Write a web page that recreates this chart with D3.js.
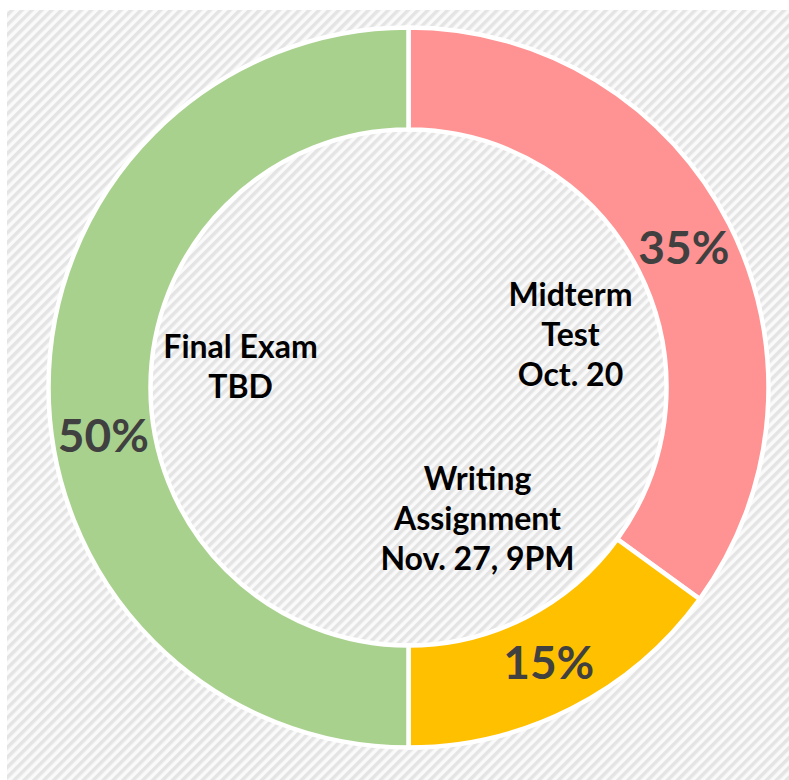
<!DOCTYPE html>
<html>
<head>
<meta charset="utf-8">
<script src="https://cdn.jsdelivr.net/npm/d3@7"></script>
<style>
  body { margin: 0; background: #fff; }
  svg { display: block; }
</style>
</head>
<body>
<svg id="chart"></svg>
<script>
var width = 789, height = 780;

// Data
var categories = ["Midterm", "Writing", "Final"];
var shares = [35, 15, 50];
var colors = ["#ff9292", "#ffc000", "#a9d18e"];
var valueLabels = ["35%", "15%", "50%"];
var centerLabels = [
  ["Midterm", "Test", "Oct. 20"],
  ["Writing", "Assignment", "Nov. 27, 9PM"],
  ["Final Exam", "TBD"]
];

var cx = 408.5, cy = 387.5;
var outerR = 360, innerR = 258;

var svg = d3.select("#chart")
  .attr("width", width)
  .attr("height", height);

// Hatched background
var defs = svg.append("defs");
var pat = defs.append("pattern")
  .attr("id", "hatch")
  .attr("patternUnits", "userSpaceOnUse")
  .attr("width", 7)
  .attr("height", 7)
  .attr("patternTransform", "rotate(45)");
pat.append("rect").attr("width", 7).attr("height", 7).attr("fill", "#fafafa");
pat.append("rect").attr("width", 3.5).attr("height", 7).attr("fill", "#e4e4e4");

svg.append("rect")
  .attr("x", 7).attr("y", 10)
  .attr("width", width - 7).attr("height", height - 10)
  .attr("fill", "url(#hatch)");

var g = svg.append("g")
  .attr("transform", "translate(" + cx + "," + cy + ")");

var pie = d3.pie().sort(null).value(function (d) { return d; });
var arcs = pie(shares);

var arc = d3.arc().innerRadius(innerR).outerRadius(outerR);

g.selectAll("path.slice")
  .data(arcs)
  .enter()
  .append("path")
  .attr("class", "slice")
  .attr("d", arc)
  .attr("fill", function (d, i) { return colors[i]; })
  .attr("stroke", "#fff")
  .attr("stroke-width", 4.5)
  .attr("stroke-linejoin", "miter");

// Percent labels on the ring
g.selectAll("text.pct")
  .data(arcs)
  .enter()
  .append("text")
  .attr("class", "pct")
  .attr("transform", function (d, i) {
    var c = arc.centroid(d);
    if (categories[i] === "Final") {
      // the big slice label sits a bit lower, as in the original
      var a = Math.PI * 2 * (261 / 360), r = (innerR + outerR) / 2;
      c = [r * Math.sin(a), -r * Math.cos(a)];
    }
    return "translate(" + c[0] + "," + c[1] + ")";
  })
  .attr("text-anchor", "middle")
  .attr("dy", "0.36em")
  .style("font-family", "Lato, 'Open Sans', sans-serif")
  .style("font-size", "46px")
  .style("font-weight", "bold")
  .style("fill", "#404040")
  .text(function (d, i) { return valueLabels[i]; });

// Labels in the hole
var holeOffsets = [[162, -82], [69, 102], [-168, -30]];
centerLabels.forEach(function (lines, i) {
  var t = g.append("text")
    .attr("text-anchor", "middle")
    .attr("transform", "translate(" + holeOffsets[i][0] + "," + holeOffsets[i][1] + ")")
    .style("font-family", "Lato, 'Open Sans', sans-serif")
    .style("font-size", "32px")
    .style("font-weight", "bold")
    .style("fill", "#000");
  lines.forEach(function (s, j) {
    t.append("tspan")
      .attr("x", 0)
      .attr("y", j * 40)
      .text(s);
  });
});
</script>
</body>
</html>
